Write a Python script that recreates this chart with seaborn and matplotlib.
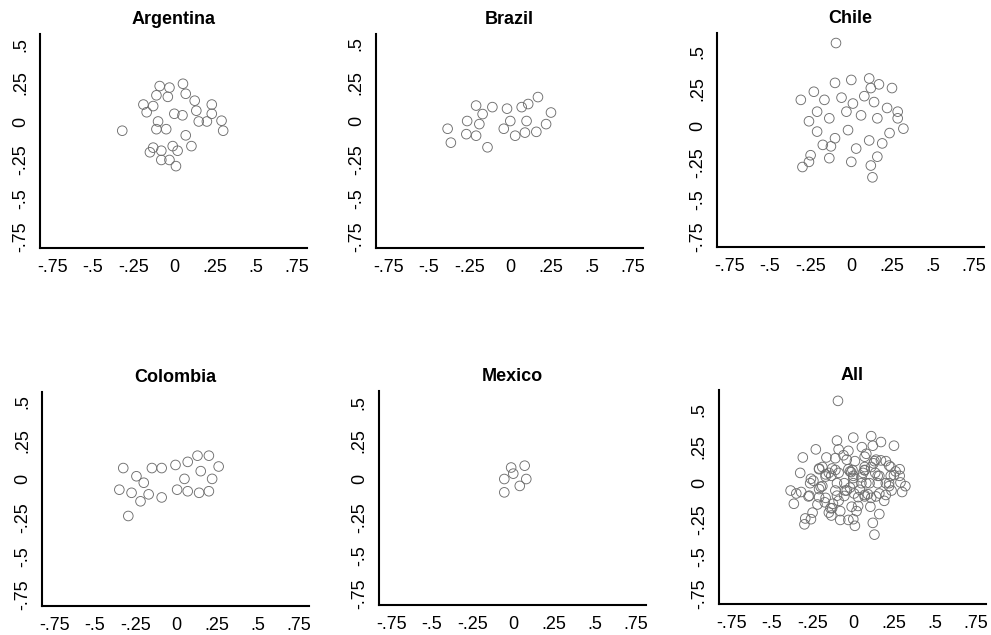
import pandas as pd
import matplotlib
matplotlib.use("Agg")
import matplotlib.pyplot as plt
import seaborn as sns

# point estimates
arg_x = [-0.32, 0.053, -0.03, -0.09, -0.11, -0.19, -0.17, -0.13, -0.04, 0.07, 0.125, 0.135,
         0.23, 0.23, 0.20, 0.29, 0.30, 0.15, -0.11, -0.10, -0.13, -0.15, -0.08, -0.01,
         0.07, 0.105, 0.02, -0.08, 0.01, -0.03, 0.05, 0.0, -0.05]
arg_y = [-0.06, 0.245, 0.22, 0.23, 0.17, 0.11, 0.06, 0.10, 0.16, 0.18, 0.135, 0.07,
         0.11, 0.05, 0.0, 0.005, -0.06, 0.0, -0.05, 0.0, -0.17, -0.20, -0.19, -0.16,
         -0.09, -0.16, -0.19, -0.25, -0.29, -0.25, 0.04, 0.05, -0.05]

bra_x = [-0.385, -0.365, -0.21, -0.14, -0.265, -0.17, -0.11, -0.02, 0.07, 0.11, 0.17, 0.25,
         0.22, 0.16, 0.09, 0.03, -0.04, -0.21, -0.27, -0.19, 0.0, 0.1]
bra_y = [-0.05, -0.14, 0.10, -0.17, 0.0, 0.045, 0.09, 0.08, 0.09, 0.11, 0.155, 0.055,
         -0.02, -0.07, -0.075, -0.095, -0.05, -0.095, -0.085, -0.02, 0.0, 0.0]

chi_x = [-0.094, -0.10, 0.0, 0.11, 0.17, 0.25, 0.12, -0.31, -0.23, -0.165, -0.06, 0.01,
         0.08, 0.14, 0.22, 0.285, 0.285, -0.135, -0.21, -0.26, -0.03, 0.06, 0.16, 0.32,
         0.235, -0.02, -0.21, -0.10, 0.11, 0.19, -0.175, -0.125, 0.03, -0.25, -0.135,
         -0.30, 0.0, 0.12, 0.13, -0.26, 0.16]
chi_y = [0.56, 0.29, 0.31, 0.32, 0.28, 0.255, 0.255, 0.175, 0.23, 0.175, 0.19, 0.15,
         0.20, 0.16, 0.12, 0.095, 0.05, 0.05, 0.095, 0.03, 0.095, 0.07, 0.05, -0.02,
         -0.05, -0.03, -0.04, -0.085, -0.10, -0.12, -0.13, -0.14, -0.155, -0.20, -0.22,
         -0.28, -0.245, -0.27, -0.35, -0.245, -0.21]

col_x = [-0.326, -0.35, -0.295, -0.275, -0.22, -0.245, -0.15, -0.09, -0.005, 0.07, 0.13,
         0.20, 0.26, 0.22, 0.20, 0.14, 0.07, 0.005, -0.09, -0.17, -0.20, 0.05, 0.15]
col_y = [0.07, -0.07, -0.24, -0.09, -0.145, 0.017, 0.07, 0.07, 0.09, 0.11, 0.15,
         0.15, 0.08, 0.0, -0.08, -0.09, -0.08, -0.07, -0.12, -0.10, -0.025, 0.0, 0.05]

mex_x = [-0.013, 0.07, 0.08, 0.04, -0.055, -0.055, 0.0]
mex_y = [0.075, 0.087, 0.0, -0.045, -0.087, 0.0, 0.035]

countries = ["Argentina", "Brazil", "Chile", "Colombia", "Mexico"]
xs = [arg_x, bra_x, chi_x, col_x, mex_x]
ys = [arg_y, bra_y, chi_y, col_y, mex_y]
ticks = [-0.75, -0.5, -0.25, 0, 0.25, 0.5, 0.75]
tick_labels = ["-.75", "-.5", "-.25", "0", ".25", ".5", ".75"]

frames = [pd.DataFrame({"x": x, "y": y, "country": c}) for c, x, y in zip(countries, xs, ys)]
df = pd.concat(frames, ignore_index=True)
panels = [(c, df[df.country == c]) for c in countries] + [("All", df)]

sns.set_style("white")
plt.rcParams["font.family"] = ["Liberation Sans", "DejaVu Sans"]

fig = plt.figure(figsize=(9.91, 6.35), dpi=100)
lefts = [0.0404, 0.3794, 0.7235, 0.0424, 0.3824, 0.7255]
bottoms = [0.6094, 0.6094, 0.6110, 0.0457, 0.0472, 0.0488]
ytops = [0.57, 0.565, 0.63, 0.564, 0.576, 0.636]

for i, (name, d) in enumerate(panels):
    ax = fig.add_axes([lefts[i], bottoms[i], 0.2694, 0.3375])
    sns.scatterplot(data=d, x="x", y="y", ax=ax, marker="o", s=48,
                    facecolor="none", edgecolor="#6e6e6e", linewidth=0.65, legend=False)
    ax.set_xlim(-0.825, 0.815)
    ax.set_ylim(-0.822, ytops[i])
    ax.set_xticks(ticks)
    ax.set_xticklabels(tick_labels)
    ax.set_yticks(ticks[:-1])
    ax.set_yticklabels(tick_labels[:-1], rotation=90, va="center")
    ax.tick_params(direction="out", length=5, width=1.2, labelsize=13, pad=3, colors="black")
    for s in ["top", "right"]:
        ax.spines[s].set_visible(False)
    for s in ["left", "bottom"]:
        ax.spines[s].set_color("black")
        ax.spines[s].set_linewidth(1.5)
    ax.set_xlabel("")
    ax.set_ylabel("")
    ax.set_title(name, fontsize=13, fontweight="bold", pad=7, color="black")

fig.savefig("out.png", dpi=100)
